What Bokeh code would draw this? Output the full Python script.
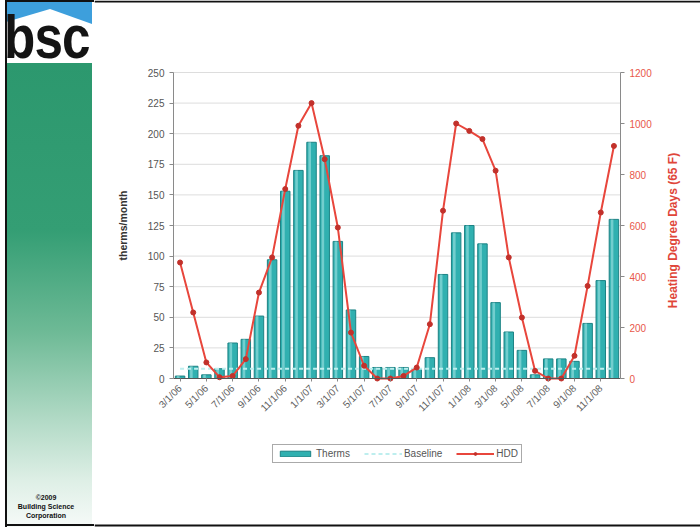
import math

from bokeh.embed import file_html
from bokeh.layouts import row
from bokeh.models import (BoxAnnotation, ColumnDataSource, Div, FixedTicker,
                          Label, Legend, LegendItem, LinearAxis, Range1d)
from bokeh.plotting import figure
from bokeh.resources import INLINE

# ---- data: monthly gas use vs. heating degree days, Mar 2006 - Dec 2008 ----
months = ["3/1/06", "4/1/06", "5/1/06", "6/1/06", "7/1/06", "8/1/06",
          "9/1/06", "10/1/06", "11/1/06", "12/1/06", "1/1/07", "2/1/07",
          "3/1/07", "4/1/07", "5/1/07", "6/1/07", "7/1/07", "8/1/07",
          "9/1/07", "10/1/07", "11/1/07", "12/1/07", "1/1/08", "2/1/08",
          "3/1/08", "4/1/08", "5/1/08", "6/1/08", "7/1/08", "8/1/08",
          "9/1/08", "10/1/08", "11/1/08", "12/1/08"]
therms = [2, 10, 3, 8, 29, 32, 51, 97, 153, 170, 193, 182,
          112, 56, 18, 9, 9, 9, 8, 17, 85, 119, 125, 110,
          62, 38, 23, 3, 16, 16, 14, 45, 80, 130]
baseline = [8, 8, 8, 8, 8, 8, 8, 8, 8, 8, 8, 8,
            8, 8, 8, 8, 8, 8, 8, 8, 8, 8, 8, 8,
            8, 8, 8, 8, 8, 8, 8, 8, 8, 8]
hdd = [455, 259, 63, 5, 10, 76, 337, 475, 743, 991, 1080, 860,
       592, 180, 50, 0, 0, 10, 43, 213, 658, 1000, 971, 939,
       815, 475, 239, 30, 0, 0, 89, 363, 651, 912]

left_ticks = [0, 25, 50, 75, 100, 125, 150, 175, 200, 225, 250]
right_ticks = [0, 200, 400, 600, 800, 1000, 1200]

FONT = "Liberation Sans"

# ---------------------------------------------------------------- sidebar
sidebar_html = """
<div style="position:relative;width:94px;height:527px;overflow:hidden;background:#ffffff;
            font-family:'Liberation Sans',Arial,sans-serif;">
  <div style="position:absolute;left:6px;top:0;width:86px;height:30px;background:#3d9fdc;"></div>
  <div style="position:absolute;left:6px;top:0;width:86px;height:64px;background:#ffffff;
              clip-path:polygon(0 22px,44px 9px,86px 24px,86px 64px,0 64px);"></div>
  <div style="position:absolute;left:6px;top:63px;width:86px;height:464px;
              background:linear-gradient(to bottom,#2c986e 0%,#349e74 36%,#6eba96 58%,
              #b2dac6 77%,#deefe6 90%,#f6faf8 100%);"></div>
  <div style="position:absolute;left:4px;top:7px;white-space:nowrap;font-weight:bold;
              font-size:61px;line-height:61px;color:#141414;letter-spacing:-1px;
              transform:scaleX(0.84);transform-origin:0 0;">bsc</div>
  <div style="position:absolute;left:0;top:493px;width:92px;text-align:center;font-weight:bold;
              font-size:7px;line-height:9px;color:#111111;">&copy;2009<br>Building Science<br>Corporation</div>
  <div style="position:absolute;left:5px;top:0;width:2px;height:527px;background:#111111;"></div>
  <div style="position:absolute;left:5px;top:0;width:89px;height:2px;background:#111111;"></div>
  <div style="position:absolute;left:5px;top:524px;width:89px;height:2px;background:#111111;"></div>
</div>
"""
side = Div(text=sidebar_html, width=94, height=527, margin=0)

# ---------------------------------------------------------------- chart
# The frame fills the whole chart canvas; axes are pinned at the data edges so
# the legend and slide edges can be drawn inside it.
PX_X = 447 / 34.0          # pixels per month
PX_Y = 306 / 250.0         # pixels per therm
x_lo = -0.5 - 79 / PX_X
x_hi = 33.5 + 80 / PX_X
y_lo = -149 / PX_Y
y_hi = 250 + 72 / PX_Y
k = right_ticks[-1] / left_ticks[-1]

idx = list(range(len(months)))
src = ColumnDataSource(dict(i=idx, hl=[v - 0.14 for v in idx], therms=therms,
                            baseline=baseline, hdd=hdd, month=months))

p = figure(width=606, height=527, x_range=Range1d(x_lo, x_hi), y_range=Range1d(y_lo, y_hi),
           output_backend="svg", toolbar_location=None, margin=0, min_border=0,
           x_axis_location=None, y_axis_location=None)
p.outline_line_color = None
p.background_fill_color = "white"
p.border_fill_color = "white"
p.xgrid.visible = False
p.ygrid.visible = False
p.extra_y_ranges = {"hdd": Range1d(y_lo * k, y_hi * k)}

# horizontal gridlines at the therm ticks
grid_src = ColumnDataSource(dict(y=left_ticks[1:], x0=[-0.5] * 10, x1=[33.5] * 10))
p.segment(x0="x0", x1="x1", y0="y", y1="y", source=grid_src,
          line_color="#dddddd", line_width=1, level="underlay")

# left axis (therms)
ly = LinearAxis(fixed_location=-0.5, bounds=(0, 250), ticker=FixedTicker(ticks=left_ticks))
ly.axis_line_color = "#8a8a8a"
ly.major_tick_line_color = "#8a8a8a"
ly.major_tick_in = 0
ly.major_tick_out = 4
ly.minor_tick_line_color = None
ly.major_label_text_font = FONT
ly.major_label_text_font_size = "10px"
ly.major_label_text_color = "#555555"
ly.axis_label = "therms/month"
ly.axis_label_text_font = FONT
ly.axis_label_text_font_style = "bold"
ly.axis_label_text_font_size = "10.5px"
ly.axis_label_text_color = "#333333"
ly.axis_label_standoff = 16
p.add_layout(ly, "left")

# right axis (HDD)
ry = LinearAxis(y_range_name="hdd", fixed_location=33.5, bounds=(0, 1200),
                ticker=FixedTicker(ticks=right_ticks))
ry.axis_line_color = "#8a8a8a"
ry.major_tick_line_color = "#8a8a8a"
ry.major_tick_in = 0
ry.major_tick_out = 4
ry.minor_tick_line_color = None
ry.major_label_text_font = FONT
ry.major_label_text_font_size = "10px"
ry.major_label_text_color = "#e8574a"
p.add_layout(ry, "right")

# right-hand title, reading upwards like the left one
p.add_layout(Label(x=33.5 + 52 / PX_X, y=(378 - 230) / PX_Y, text="Heating Degree Days (65 F)",
                   angle=math.pi / 2, text_align="center", text_baseline="middle",
                   text_font=FONT, text_font_style="bold", text_font_size="12px",
                   text_color="#e0463a"))

# bottom axis (months, every other one labelled)
bx = LinearAxis(fixed_location=0, bounds=(-0.5, 33.5), ticker=FixedTicker(ticks=idx[::2]))
bx.major_label_overrides = {i: months[i] for i in idx[::2]}
bx.major_label_orientation = math.pi / 4
bx.major_label_text_font = FONT
bx.major_label_text_font_size = "10px"
bx.major_label_text_color = "#5e5e5e"
bx.axis_line_color = "#555555"
bx.major_tick_line_color = "#888888"
bx.major_tick_in = 0
bx.major_tick_out = 3
bx.minor_tick_line_color = None
p.add_layout(bx, "below")

bars = p.vbar(x="i", top="therms", width=0.72, source=src,
              fill_color="#30b0b0", line_color="#1c8284", line_width=1)
p.vbar(x="hl", top="therms", width=0.2, source=src,
       fill_color="#b4ecec", fill_alpha=0.5, line_color=None)
base = p.line(x="i", y="baseline", source=src, line_color="#bdeeee",
              line_width=2, line_dash="4 3")
hl = p.line(x="i", y="hdd", source=src, y_range_name="hdd",
            line_color="#e8463c", line_width=2)
hp = p.scatter(x="i", y="hdd", source=src, y_range_name="hdd", size=5,
               fill_color="#c2312b", line_color="#c2312b")

legend = Legend(items=[LegendItem(label="Therms", renderers=[bars]),
                       LegendItem(label="Baseline", renderers=[base]),
                       LegendItem(label="HDD", renderers=[hl, hp])],
                orientation="horizontal", location=(178, 64),
                glyph_width=38, glyph_height=7, label_height=11,
                label_text_font=FONT, label_text_font_size="10px",
                label_text_color="#555555", label_standoff=2, spacing=14,
                padding=3, margin=0, border_line_color="#555555",
                background_fill_color="white")
p.add_layout(legend)

# thin slide frame along the top and bottom edges
p.add_layout(BoxAnnotation(top=y_hi, bottom=y_hi - 2 / PX_Y, fill_color="#111111",
                           fill_alpha=1.0, line_color=None))
p.add_layout(BoxAnnotation(top=y_lo + 3 / PX_Y, bottom=y_lo + 1 / PX_Y, fill_color="#111111",
                           fill_alpha=1.0, line_color=None))

layout = row(side, p, spacing=0)

with open("out.html", "w") as f:
    f.write(file_html(layout, INLINE))
